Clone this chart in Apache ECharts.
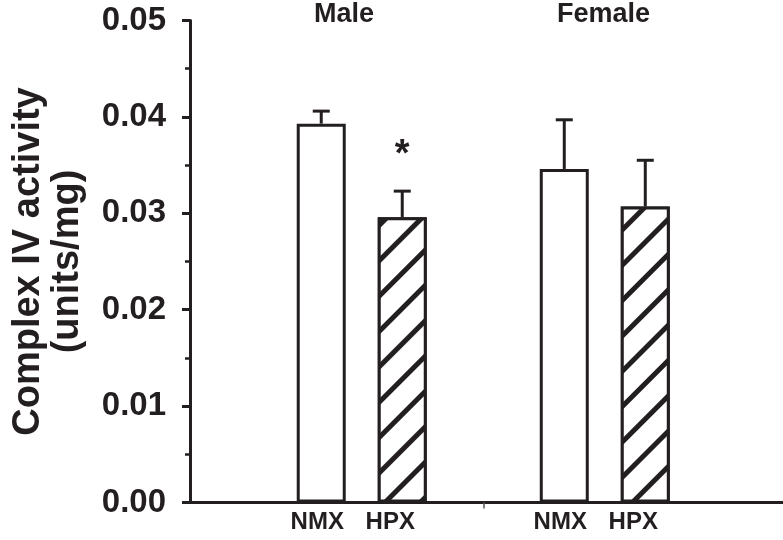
<!DOCTYPE html>
<html>
<head>
<meta charset="utf-8">
<script src="https://cdn.jsdelivr.net/npm/echarts@6/dist/echarts.min.js"></script>
<style>html,body{margin:0;padding:0;background:#fff}#chart{width:783px;height:540px}</style>
</head>
<body>
<div id="chart"></div>
<script>
// Complex IV activity, NMX vs HPX, by sex (mean + SEM)
const groups = ["Male", "Female"];
const treatments = ["NMX", "HPX"];
const means = [[0.0393, 0.0296], [0.0346, 0.0307]];
const sems = [[0.0013, 0.0027], [0.0051, 0.0048]];
const marks = [["", "*"], ["", ""]];
const yTicks = [0, 0.01, 0.02, 0.03, 0.04, 0.05];

const INK = "#231f20";
const FONT = "'Liberation Sans', Arial, Helvetica, sans-serif";
// x layout: bars one unit apart inside a group, groups three units apart
const FIRST = 1.62, STEP = 3, X_MAX = 7.32;
const xOf = (g, t) => FIRST + g * STEP + t;

const barData = [], errData = [], markList = [], labelPos = [];
groups.forEach((g, gi) => {
  treatments.forEach((t, ti) => {
    const x = xOf(gi, ti);
    labelPos.push(x);
    markList.push(marks[gi][ti]);
    errData.push([x, means[gi][ti], sems[gi][ti]]);
    barData.push({
      value: [x, means[gi][ti]],
      itemStyle: t === "HPX" ? {
        color: "#fff",
        decal: {
          symbol: "rect", symbolSize: 1, color: INK, backgroundColor: "#fff",
          dashArrayX: [1, 0], dashArrayY: [5, 20], rotation: -Math.PI / 4,
        },
      } : { color: "#fff" },
    });
  });
});
// labels in the original sit a little left of their bars
const labelName = (v) => {
  const i = labelPos.findIndex((p) => Math.abs(p - v) < 0.01);
  if (i < 0) return "";
  return i % 2 === 0 ? `{n|${treatments[0]}}` : `{h|${treatments[1]}}`;
};

const chart = echarts.init(document.getElementById("chart"), null, { renderer: "canvas" });
chart.setOption({
  animation: false,
  backgroundColor: "#fff",
  grid: { left: 190, right: 0, top: 20.5, bottom: 37.5 },
  xAxis: {
    type: "value", min: 0, max: X_MAX,
    splitLine: { show: false },
    axisLine: { show: true, lineStyle: { color: INK, width: 3 } },
    axisTick: { show: true, customValues: [FIRST + 2], length: 6, lineStyle: { color: "#555", width: 1.5 } },
    axisLabel: {
      customValues: labelPos, formatter: labelName, margin: 8,
      color: INK, fontSize: 24, fontWeight: "bold", fontFamily: FONT,
      rich: {
        n: { color: INK, fontSize: 24, fontWeight: "bold", fontFamily: FONT, padding: [0, 8, 0, 0] },
        h: { color: INK, fontSize: 24, fontWeight: "bold", fontFamily: FONT, padding: [0, 24, 0, 0] },
      },
    },
  },
  yAxis: {
    type: "value", min: yTicks[0], max: yTicks[yTicks.length - 1], interval: 0.01,
    name: "Complex IV activity\n(units/mg)",
    nameLocation: "middle", nameGap: 103,
    nameTextStyle: { color: INK, fontSize: 38, fontWeight: "bold", fontFamily: FONT, lineHeight: 39, align: "center" },
    splitLine: { show: false },
    axisLine: { show: true, lineStyle: { color: INK, width: 3 } },
    axisTick: { show: true, length: 8, lineStyle: { color: INK, width: 3 } },
    minorTick: { show: true, splitNumber: 2, length: 5, lineStyle: { color: INK, width: 2.5 } },
    axisLabel: {
      margin: 24, color: INK, fontSize: 33, fontWeight: "bold", fontFamily: FONT,
      formatter: (v) => v.toFixed(2),
    },
  },
  graphic: [
    { type: "text", left: 344 - 30, top: 1, style: { text: groups[0], fill: INK, fontSize: 27, fontWeight: "bold", fontFamily: FONT } },
    { type: "text", left: 604 - 47, top: 1, style: { text: groups[1], fill: INK, fontSize: 27, fontWeight: "bold", fontFamily: FONT } },
  ],
  series: [
    {
      type: "bar", data: barData, barWidth: 49,
      itemStyle: { borderColor: INK, borderWidth: 3 },
      z: 2,
    },
    {
      type: "custom", data: errData, z: 3,
      renderItem: (params, api) => {
        const x = api.value(0), m = api.value(1), e = api.value(2);
        const base = api.coord([x, m]);
        const top = api.coord([x, m + e]);
        const kids = [
          { type: "line", shape: { x1: base[0], y1: base[1], x2: top[0], y2: top[1] }, style: { stroke: INK, lineWidth: 3 } },
          { type: "line", shape: { x1: top[0] - 8.5, y1: top[1], x2: top[0] + 8.5, y2: top[1] }, style: { stroke: INK, lineWidth: 3 } },
        ];
        const mk = markList[params.dataIndex];
        if (mk) kids.push({
          type: "text", x: top[0], y: top[1] - 36,
          style: { text: mk, fill: INK, fontSize: 38, fontWeight: "bold", fontFamily: FONT, align: "center", verticalAlign: "middle" },
        });
        return { type: "group", children: kids };
      },
    },
  ],
});
</script>
</body>
</html>
